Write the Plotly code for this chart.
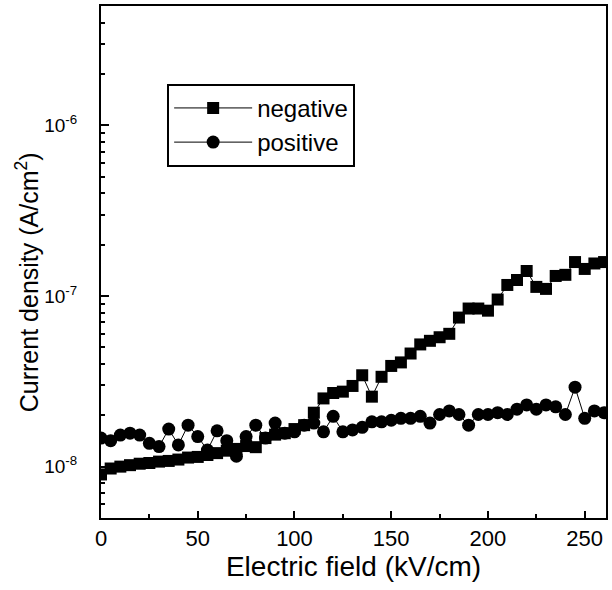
import plotly.graph_objects as go

# Electric field (kV/cm)
field_neg = [0, 5, 10, 15, 20, 25, 30, 35, 40, 45, 50, 55, 60, 65, 70, 75, 80, 85, 90, 95,
             100, 105, 110, 115, 120, 125, 130, 135, 140, 145, 150, 155, 160, 165, 170, 175,
             180, 185, 190, 195, 200, 205, 210, 215, 220, 225, 230, 235, 240, 245, 250, 255, 260]
current_neg = [9.0e-9, 9.75e-9, 1.0e-8, 1.02e-8, 1.04e-8, 1.05e-8, 1.07e-8, 1.08e-8, 1.10e-8, 1.13e-8,
               1.14e-8, 1.17e-8, 1.20e-8, 1.24e-8, 1.27e-8, 1.32e-8, 1.30e-8, 1.47e-8, 1.54e-8, 1.57e-8,
               1.66e-8, 1.75e-8, 2.07e-8, 2.51e-8, 2.70e-8, 2.75e-8, 2.97e-8, 3.43e-8, 2.57e-8, 3.36e-8,
               3.89e-8, 4.08e-8, 4.60e-8, 5.20e-8, 5.46e-8, 5.73e-8, 6.00e-8, 7.47e-8, 8.44e-8, 8.44e-8,
               8.20e-8, 9.53e-8, 1.16e-7, 1.24e-7, 1.40e-7, 1.13e-7, 1.10e-7, 1.31e-7, 1.33e-7, 1.58e-7,
               1.44e-7, 1.55e-7, 1.58e-7]

field_pos = [0, 5, 10, 15, 20, 25, 30, 35, 40, 45, 50, 55, 60, 65, 70, 75, 80, 85, 90, 95,
             100, 105, 110, 115, 120, 125, 130, 135, 140, 145, 150, 155, 160, 165, 170, 175,
             180, 185, 190, 195, 200, 205, 210, 215, 220, 225, 230, 235, 240, 245, 250, 255, 260]
current_pos = [1.47e-8, 1.42e-8, 1.53e-8, 1.57e-8, 1.53e-8, 1.37e-8, 1.31e-8, 1.66e-8, 1.34e-8, 1.75e-8,
               1.50e-8, 1.25e-8, 1.62e-8, 1.42e-8, 1.15e-8, 1.50e-8, 1.75e-8, 1.47e-8, 1.80e-8, 1.57e-8,
               1.60e-8, 1.75e-8, 1.80e-8, 1.60e-8, 1.97e-8, 1.60e-8, 1.64e-8, 1.70e-8, 1.83e-8, 1.83e-8,
               1.87e-8, 1.92e-8, 1.92e-8, 1.97e-8, 1.80e-8, 2.02e-8, 2.12e-8, 2.02e-8, 1.75e-8, 2.02e-8,
               2.02e-8, 2.07e-8, 2.02e-8, 2.17e-8, 2.30e-8, 2.17e-8, 2.30e-8, 2.24e-8, 2.02e-8, 2.92e-8,
               1.92e-8, 2.12e-8, 2.07e-8]

x_ticks = [0, 50, 100, 150, 200, 250]
y_ticks = [1e-8, 1e-7, 1e-6]
y_tick_text = ["10<sup>-8</sup>", "10<sup>-7</sup>", "10<sup>-6</sup>"]
series_names = ["negative", "positive"]

FONT = "Liberation Sans, Arial, sans-serif"

fig = go.Figure()
fig.add_trace(go.Scatter(
    x=field_neg, y=current_neg, name=series_names[0], mode="lines+markers",
    line=dict(color="black", width=1),
    marker=dict(symbol="square", size=12, color="black"),
))
fig.add_trace(go.Scatter(
    x=field_pos, y=current_pos, name=series_names[1], mode="lines+markers",
    line=dict(color="black", width=1),
    marker=dict(symbol="circle", size=13, color="black"),
))

fig.update_layout(
    width=612, height=590,
    margin=dict(l=101, r=6, t=4, b=72),
    paper_bgcolor="white", plot_bgcolor="white",
    font=dict(family=FONT, color="black"),
    showlegend=True,
    legend=dict(
        x=0.131, y=0.848, xanchor="left", yanchor="top",
        bordercolor="black", borderwidth=2, bgcolor="white",
        font=dict(size=24, family=FONT, color="black"),
        itemwidth=78, tracegroupgap=0,
    ),
    xaxis=dict(
        range=[0, 261], tickvals=x_ticks, ticktext=[str(v) for v in x_ticks],
        ticks="inside", ticklen=7, tickwidth=2, tickcolor="black",
        minor=dict(ticks="inside", ticklen=4, dtick=25, tick0=0, tickcolor="black", showgrid=False),
        showline=True, linecolor="black", linewidth=2, mirror=True,
        showgrid=False, zeroline=False,
        tickfont=dict(size=22, family=FONT, color="black"),
        ticklabelstandoff=0,
        title=dict(text="Electric field (kV/cm)", font=dict(size=28, family=FONT, color="black"), standoff=4),
    ),
    yaxis=dict(
        type="log", range=[-8.301, -5.301],
        tickvals=y_ticks, ticktext=y_tick_text,
        ticks="inside", ticklen=8, tickwidth=2, tickcolor="black",
        minor=dict(ticks="inside", ticklen=4, dtick="D1", tickcolor="black", showgrid=False),
        showline=True, linecolor="black", linewidth=2, mirror=True,
        showgrid=False, zeroline=False,
        tickfont=dict(size=19, family=FONT, color="black"),
        ticklabelstandoff=18,
    ),
    annotations=[dict(
        text="Current density (A/cm<sup>2</sup>)", textangle=-90,
        xref="paper", yref="paper", x=-0.146, y=0.461,
        xanchor="center", yanchor="middle", showarrow=False,
        font=dict(size=25, family=FONT, color="black"),
    )],
)

fig.write_html(
    "out.html",
    config={"displayModeBar": False},
    post_script="document.body.style.margin='0';document.body.style.overflow='hidden';",
)
